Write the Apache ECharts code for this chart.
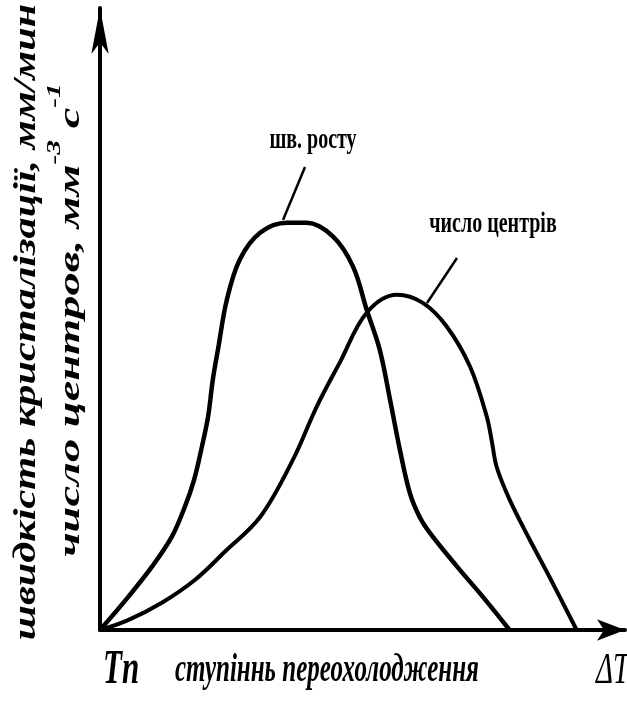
<!DOCTYPE html>
<html>
<head>
    <meta charset="utf-8">
    <title>швидкість кристалізації</title>
    <script src="https://cdn.jsdelivr.net/npm/echarts@6/dist/echarts.min.js"></script>
    <style>
        html, body {
            margin: 0;
            padding: 0;
            background: #fff;
        }

        #main {
            width: 627px;
            height: 702px;
        }
    </style>
</head>
<body>
<div id="main"></div>
<script>
    // ступінь переохолодження (умовні одиниці)
    var growthX = [0, 5.4, 10.0, 13.8, 16.3, 18.1, 19.6, 20.8, 21.7, 22.7, 24.4, 26.9, 30.8, 36.0, 39.8, 44.8, 48.7, 51.3, 53.8, 55.8, 57.7, 59.6, 61.5, 63.5, 68.7, 73.7, 78.8];
    // швидкість росту
    var growthY = [0, 5.3, 10.2, 15.0, 19.8, 24.2, 29.5, 34.4, 40.3, 45.2, 53.2, 59.7, 64.0, 65.6, 65.6, 63.4, 58.5, 51.6, 45.2, 37.1, 29.0, 22.1, 18.2, 15.6, 10.2, 5.3, 0];

    var centersX = [0, 5.4, 11.9, 18.3, 24.0, 30.8, 37.1, 41.7, 46.2, 51.3, 57.1, 62.1, 66.7, 71.2, 74.4, 75.4, 76.3, 78.8, 82.7, 86.5, 91.7];
    // число центрів
    var centersY = [0, 1.6, 4.4, 8.1, 12.6, 18.2, 27.4, 36.0, 43.2, 51.1, 54.0, 52.7, 48.9, 42.4, 34.4, 30.3, 26.3, 21.0, 14.5, 8.5, 0];

    var growthName = 'шв. росту';
    var centersName = 'число центрів';
    var yTitle1 = 'швидкість кристалізації, мм/мин';
    var xTitle = 'ступіннь переохолодження';

    function pairs(xs, ys) {
        var out = [];
        for (var i = 0; i < xs.length; i++) {
            out.push([xs[i], ys[i]]);
        }
        return out;
    }

    var chart = echarts.init(document.getElementById('main'), null, {renderer: 'canvas'});

    var serif = '"Liberation Serif", "DejaVu Serif", serif';

    var option = {
        backgroundColor: '#fff',
        animation: false,
        grid: {
            left: 100,
            right: 2,
            top: 8,
            bottom: 72
        },
        xAxis: {
            type: 'value',
            min: 0,
            max: 101,
            axisLine: {
                show: true,
                symbol: ['none', 'arrow'],
                symbolSize: [16, 28],
                lineStyle: {color: '#000', width: 4}
            },
            axisTick: {show: false},
            axisLabel: {show: false},
            splitLine: {show: false}
        },
        yAxis: {
            type: 'value',
            min: 0,
            max: 100.2,
            axisLine: {
                show: true,
                symbol: ['none', 'arrow'],
                symbolSize: [13, 46],
                lineStyle: {color: '#000', width: 4}
            },
            axisTick: {show: false},
            axisLabel: {show: false},
            splitLine: {show: false}
        },
        series: [
            {
                name: growthName,
                type: 'line',
                smooth: 0.35,
                symbol: 'none',
                lineStyle: {color: '#000', width: 4.5},
                data: pairs(growthX, growthY)
            },
            {
                name: centersName,
                type: 'line',
                smooth: 0.35,
                symbol: 'none',
                lineStyle: {color: '#000', width: 4},
                data: pairs(centersX, centersY)
            }
        ],
        graphic: [
            // підписи кривих
            {
                type: 'text', x: 313, y: 141, scaleY: 1.45,
                style: {text: growthName, font: 'bold 20px ' + serif, fill: '#000', align: 'center', verticalAlign: 'middle'}
            },
            {
                type: 'line', shape: {x1: 305, y1: 167, x2: 283, y2: 220},
                style: {stroke: '#000', lineWidth: 2.5}
            },
            {
                type: 'text', x: 493, y: 225, scaleY: 1.45,
                style: {text: centersName, font: 'bold 20px ' + serif, fill: '#000', align: 'center', verticalAlign: 'middle'}
            },
            {
                type: 'line', shape: {x1: 457, y1: 258, x2: 427, y2: 303},
                style: {stroke: '#000', lineWidth: 2.5}
            },
            // вісь x
            {
                type: 'text', x: 103, y: 671, scaleY: 1.55,
                style: {text: 'Tn', font: 'bold italic 31px ' + serif, fill: '#000', align: 'left', verticalAlign: 'middle'}
            },
            {
                type: 'text', x: 175, y: 671, scaleY: 1.6,
                style: {text: xTitle, font: 'bold italic 25px ' + serif, fill: '#000', align: 'left', verticalAlign: 'middle'}
            },
            {
                type: 'text', x: 596, y: 671, scaleY: 1.55,
                style: {text: 'ΔT', font: 'italic 29px ' + serif, fill: '#000', align: 'left', verticalAlign: 'middle'}
            },
            // вісь y, два рядки
            {
                type: 'text', x: 27, y: 322, rotation: Math.PI / 2, scaleX: 1.32,
                style: {text: yTitle1, font: 'bold italic 32px ' + serif, fill: '#000', align: 'center', verticalAlign: 'middle'}
            },
            {
                type: 'text', x: 66, y: 320, rotation: Math.PI / 2, scaleX: 1.55,
                style: {
                    text: '{m|число центров, мм}{s|-3}{m| с}{s|-1}',
                    align: 'center', verticalAlign: 'middle',
                    rich: {
                        m: {font: 'bold italic 30px ' + serif, fill: '#000', lineHeight: 40, verticalAlign: 'bottom'},
                        s: {font: 'bold italic 19px ' + serif, fill: '#000', lineHeight: 40, verticalAlign: 'top'}
                    }
                }
            }
        ]
    };
    chart.setOption(option);
</script>
</body>
</html>
